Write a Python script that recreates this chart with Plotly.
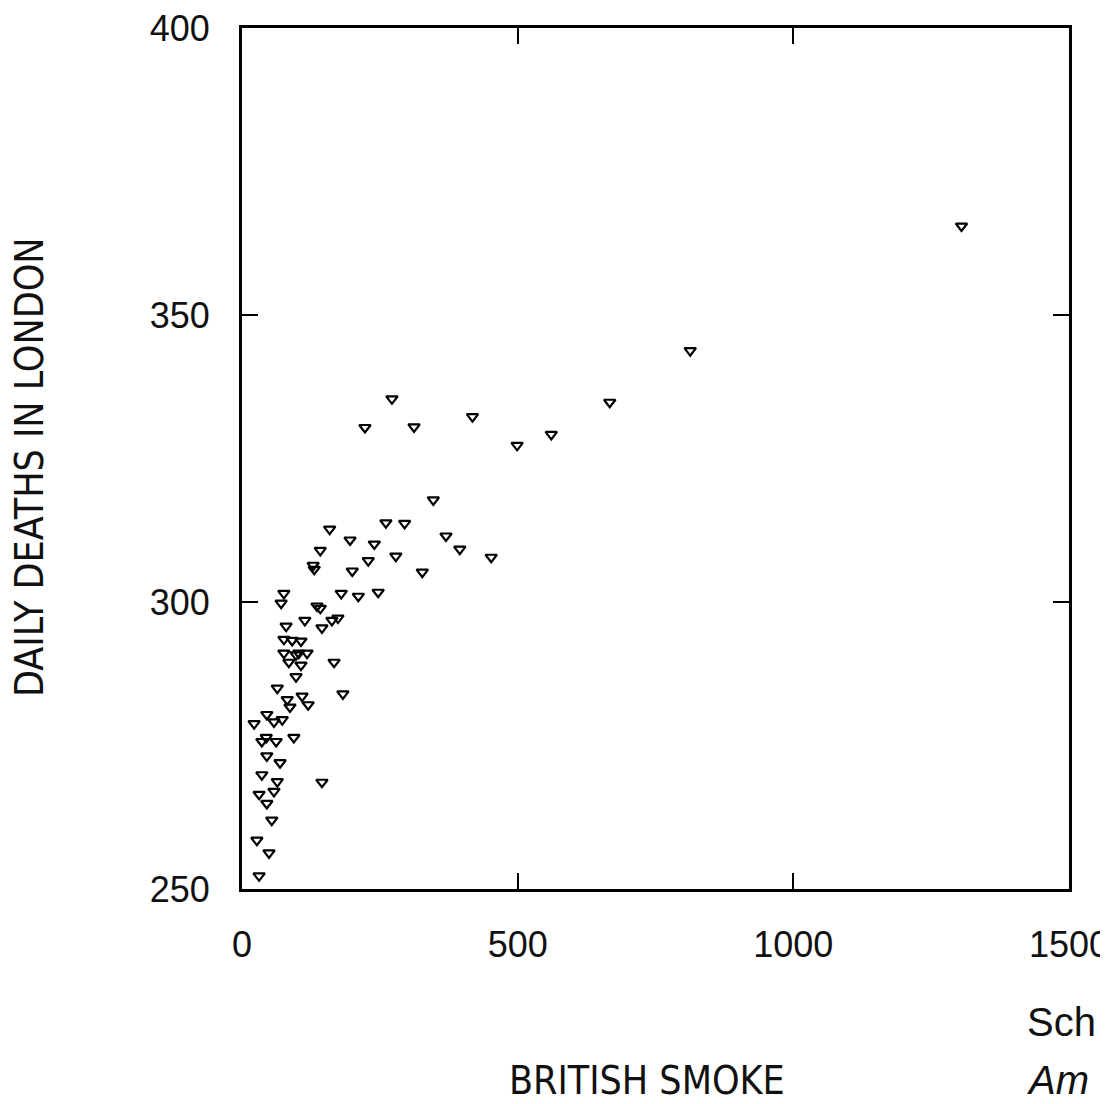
import plotly.graph_objects as go

# British smoke (x) vs daily deaths in London (y)
smoke = [1305, 813, 667, 561, 499, 418, 312, 272, 223, 347, 370, 395, 452, 261, 295,
         159, 196, 240, 142, 129, 131, 200, 229, 279, 327,
         76, 71, 180, 211, 247, 136, 142, 80, 114, 145, 163, 174, 76, 91, 107,
         76, 103, 118, 98, 85, 107, 167, 98, 64, 109, 82, 87, 120, 183,
         45, 58, 73, 22, 44, 36, 62, 94, 45, 69, 36, 64, 58, 145, 31, 45, 54, 27, 49, 31]
deaths = [365.5, 343.8, 334.8, 329.2, 327.3, 332.3, 330.5, 335.4, 330.4, 317.8, 311.5, 309.2, 307.8, 313.8, 313.7,
          312.7, 310.8, 310.1, 309.0, 306.4, 305.7, 305.4, 307.2, 308.0, 305.2,
          301.5, 299.8, 301.5, 301.0, 301.7, 299.3, 298.9, 295.8, 296.8, 295.5, 296.8, 297.2, 293.5, 293.3, 293.2,
          291.1, 291.1, 291.1, 290.8, 289.5, 289.0, 289.5, 287.0, 285.0, 283.6, 283.0, 281.7, 282.1, 284.0,
          280.4, 279.1, 279.5, 278.8, 276.4, 275.7, 275.7, 276.4, 273.2, 272.0, 269.9, 268.7, 267.0, 268.6,
          266.5, 264.9, 262.0, 258.5, 256.3, 252.3]

x_ticks = [0, 500, 1000, 1500]
y_ticks = [250, 300, 350, 400]
x_title = "BRITISH SMOKE"
y_title = "DAILY DEATHS IN LONDON"
# citation text as far as it is visible in the source image (cut at the right edge)
cite1 = "Sch"
cite2 = "Am"

tick_font = dict(family="Liberation Sans, Arial, sans-serif", size=36, color="#111")
title_font = dict(family="Liberation Sans Narrow, DejaVu Sans Condensed, Liberation Sans, sans-serif",
                  size=39, color="#111")
cite_font = dict(family="Liberation Sans, Arial, sans-serif", size=40, color="#111")

fig = go.Figure()
fig.add_trace(go.Scatter(
    x=smoke, y=deaths, mode="markers",
    marker=dict(symbol="triangle-down-open", size=10, color="black", line=dict(width=2.2, color="black")),
    showlegend=False, hoverinfo="x+y"))

axis_common = dict(showgrid=False, zeroline=False, showline=True, linecolor="black", linewidth=3,
                   mirror="ticks", ticks="inside", ticklen=16, tickwidth=2, tickcolor="black",
                   tickfont=tick_font, automargin=False, ticklabeloverflow="allow")

fig.update_xaxes(range=[0, 1500], tickvals=x_ticks, ticktext=[str(v) for v in x_ticks],
                 ticklabelstandoff=22, **axis_common)
fig.update_yaxes(range=[250, 400], tickvals=y_ticks, ticktext=[str(v) for v in y_ticks],
                 ticklabelstandoff=22, **axis_common)

# page body has an 8px default margin: figure drawn at offset (8, 8)
OFF = 8
W, H = 1108 - OFF, 1104 - OFF
box_l, box_r, box_t, box_b = 242, 1069, 28, 889  # in screenshot pixels
L = box_l - OFF
T = box_t - OFF
R = W - (box_r - OFF)
B = H - (box_b - OFF)
pw = W - L - R
ph = H - T - B


def px(xp):
    return (xp - OFF - L) / pw


def py(yp):
    return (H - B - (yp - OFF)) / ph


fig.add_annotation(text=y_title, xref="paper", yref="paper", x=px(29), y=py(467),
                   textangle=-90, showarrow=False, font=title_font, xanchor="center", yanchor="middle")
fig.add_annotation(text=x_title, xref="paper", yref="paper", x=px(647), y=py(1080),
                   showarrow=False, font=title_font, xanchor="center", yanchor="middle")
fig.add_annotation(text=cite1, xref="paper", yref="paper", x=px(1025), y=py(1022),
                   showarrow=False, font=cite_font, xanchor="left", yanchor="middle")
fig.add_annotation(text="<i>" + cite2 + "</i>", xref="paper", yref="paper", x=px(1025), y=py(1080),
                   showarrow=False, font=cite_font, xanchor="left", yanchor="middle")

fig.update_layout(width=W, height=H, margin=dict(l=L, r=R, t=T, b=B),
                  plot_bgcolor="white", paper_bgcolor="white")

fig.write_html("out.html")
